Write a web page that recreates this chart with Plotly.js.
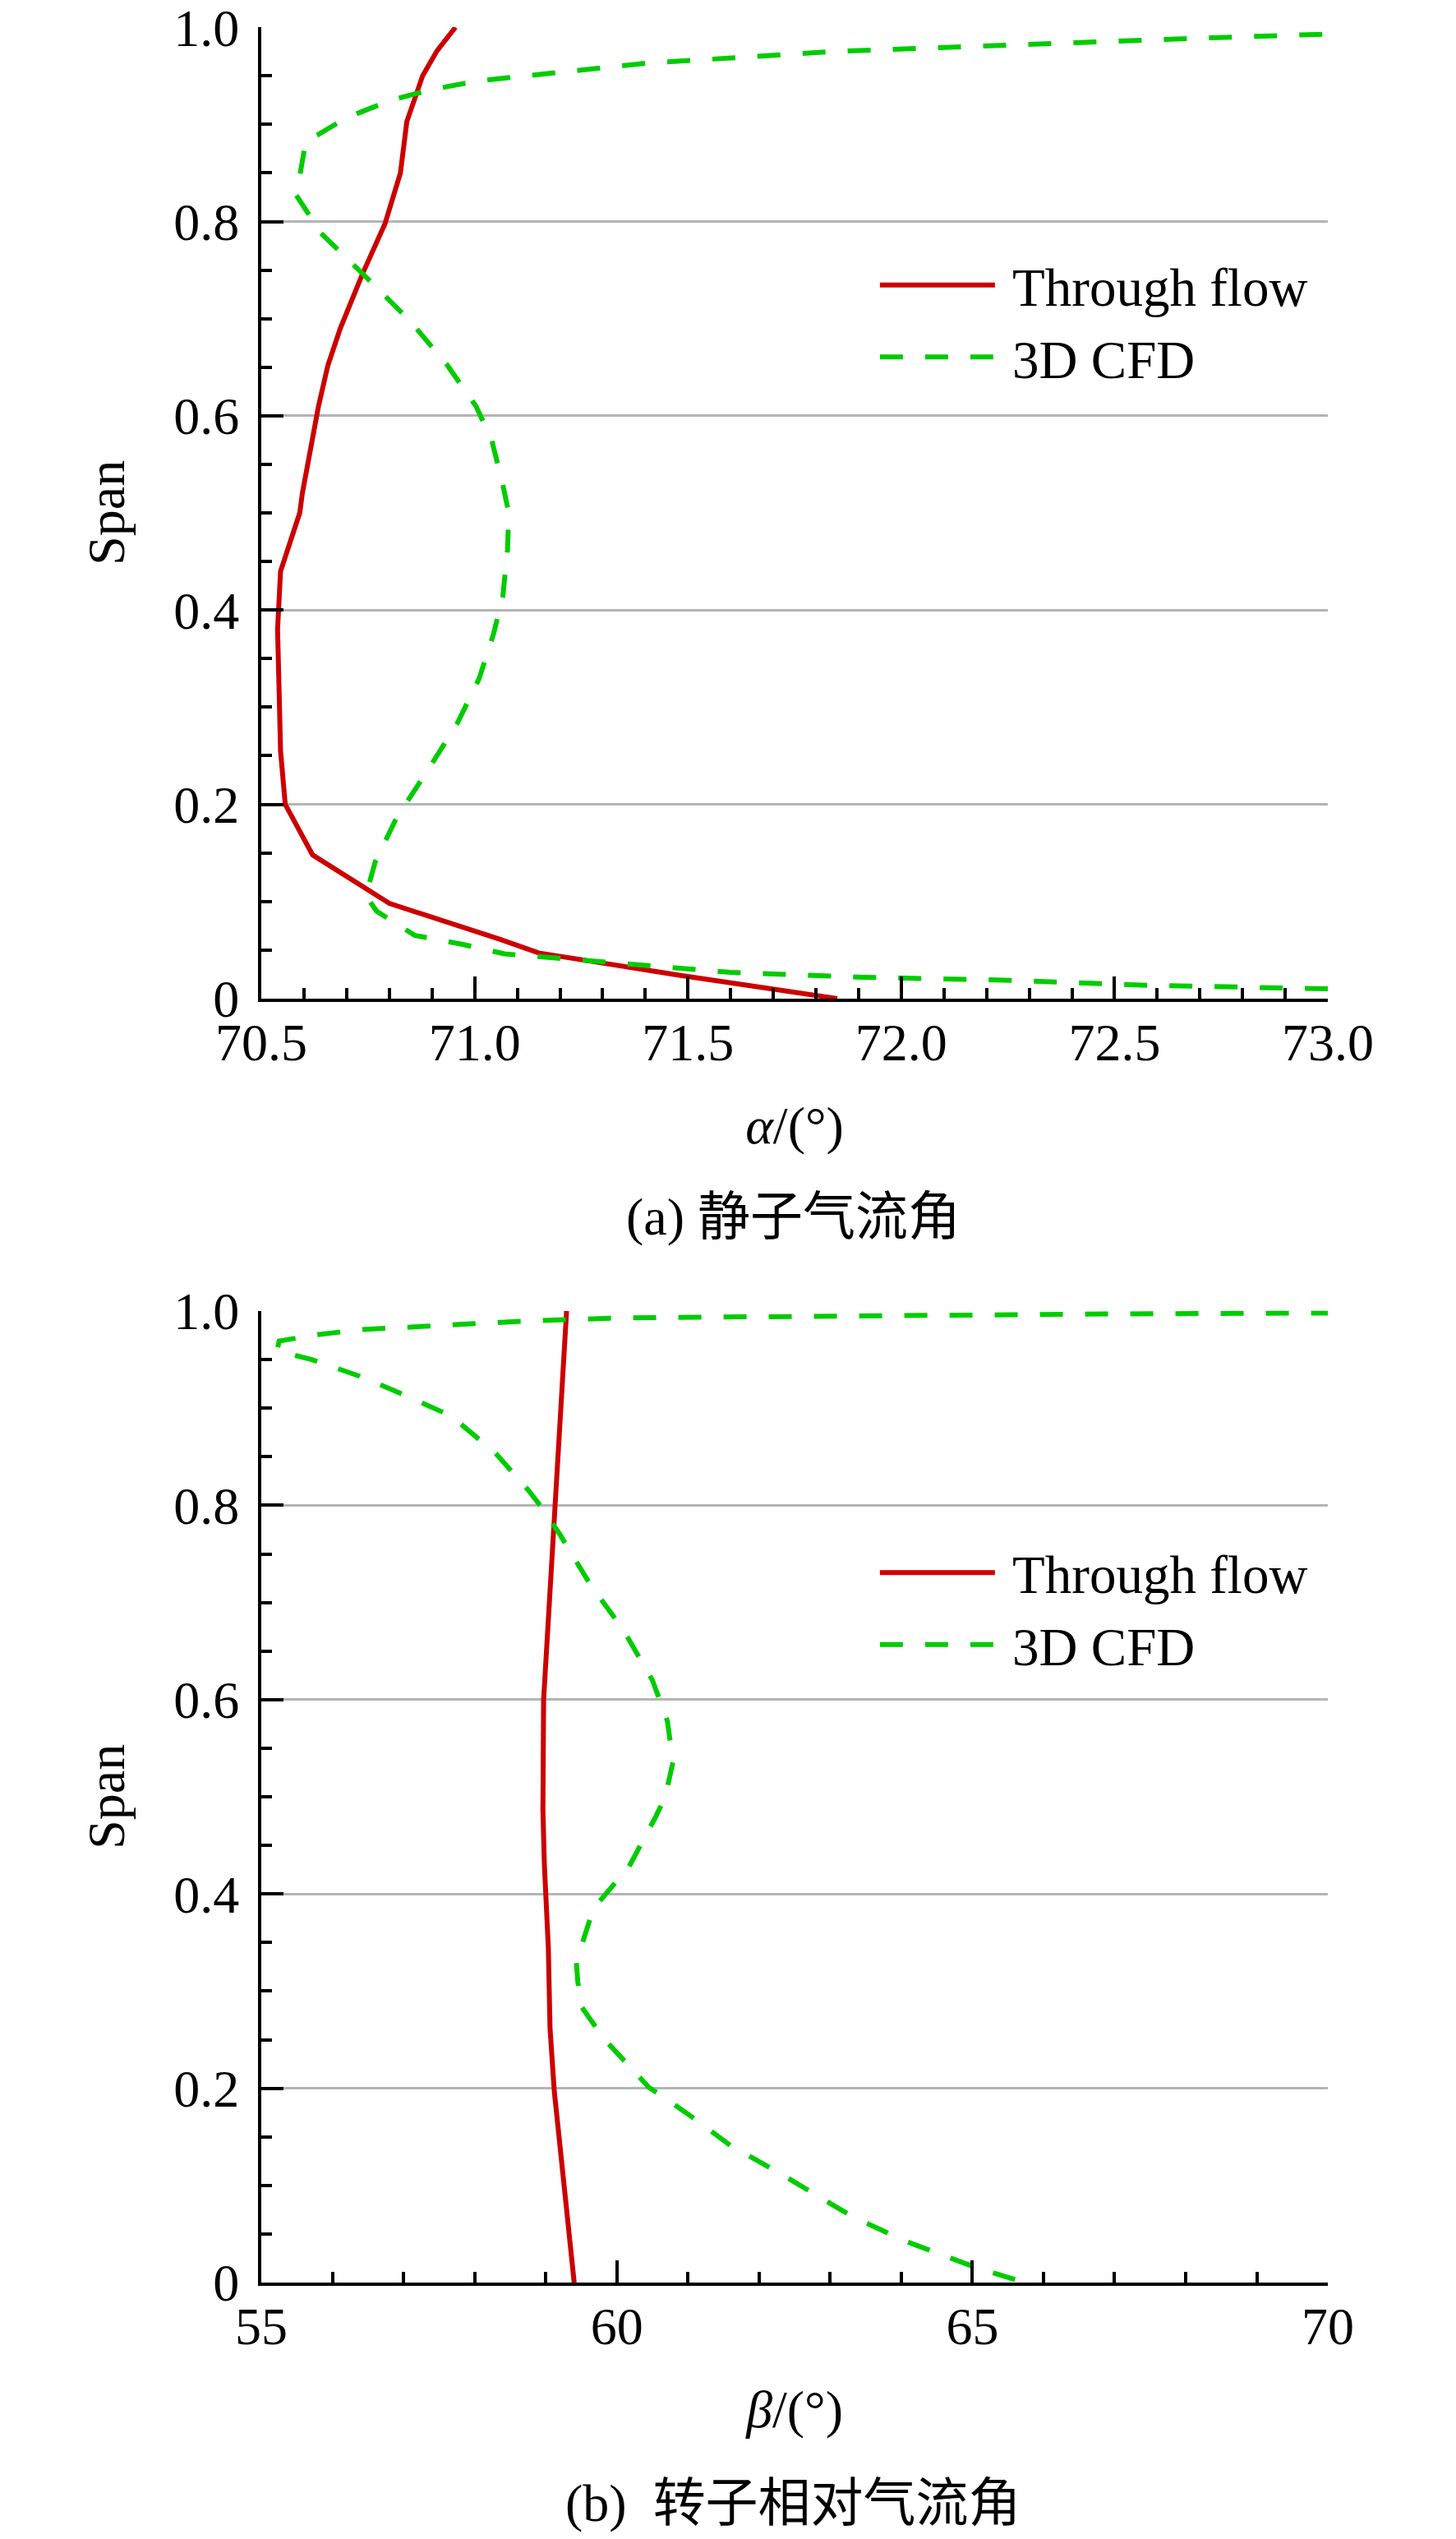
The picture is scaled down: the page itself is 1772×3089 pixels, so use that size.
<!DOCTYPE html>
<html>
<head>
<meta charset="utf-8">
<script src="https://cdn.plot.ly/plotly-3.0.1.min.js"></script>
<style>
  html, body { margin: 0; padding: 0; background: #fff; }
  #plot { width: 1772px; height: 3089px; }
</style>
</head>
<body>
<div id="plot"></div>
<script>
// (a) stator flow angle
let statorTfAlpha = [71.85, 71.48, 71.15, 71.06, 70.80, 70.745, 70.62, 70.556, 70.545, 70.542, 70.538, 70.545, 70.59, 70.596, 70.634, 70.656, 70.685, 70.737, 70.79, 70.826, 70.841, 70.878, 70.912, 70.955];
let statorTfSpan  = [0.0, 0.024, 0.047, 0.061, 0.098, 0.113, 0.148, 0.20, 0.255, 0.31, 0.38, 0.44, 0.50, 0.52, 0.61, 0.652, 0.69, 0.746, 0.798, 0.85, 0.903, 0.95, 0.976, 1.0];

let statorCfdAlpha = [73.0, 72.55, 72.24, 71.91, 71.60, 71.38, 71.19, 71.07, 70.97, 70.86, 70.77, 70.745, 70.767, 70.818, 70.89, 70.96, 71.01, 71.044, 71.066, 71.077, 71.08, 71.066, 71.04, 71.003, 70.936, 70.848, 70.745, 70.64, 70.582, 70.59, 70.604, 70.70, 70.804, 70.90, 71.01, 71.12, 71.40, 71.84, 72.19, 72.42, 72.71, 73.0];
let statorCfdSpan  = [0.010, 0.014, 0.019, 0.022, 0.027, 0.035, 0.042, 0.046, 0.056, 0.065, 0.090, 0.106, 0.141, 0.187, 0.235, 0.284, 0.329, 0.375, 0.414, 0.462, 0.50, 0.529, 0.575, 0.61, 0.652, 0.698, 0.743, 0.788, 0.827, 0.847, 0.882, 0.907, 0.925, 0.936, 0.945, 0.950, 0.963, 0.975, 0.981, 0.984, 0.989, 0.993];

// (b) rotor relative flow angle
let rotorTfBeta = [59.40, 59.32, 59.24, 59.12, 59.06, 59.036, 58.98, 58.96, 58.97, 59.036, 59.11, 59.165, 59.24, 59.293];
let rotorTfSpan = [0.0, 0.054, 0.111, 0.197, 0.262, 0.345, 0.431, 0.487, 0.60, 0.684, 0.778, 0.854, 0.952, 1.0];

let rotorCfdBeta = [65.6, 65.03, 64.08, 63.31, 62.35, 61.6, 60.97, 60.45, 59.83, 59.50, 59.45, 59.43, 59.67, 60.17, 60.55, 60.68, 60.79, 60.71, 60.50, 60.09, 59.63, 59.19, 58.93, 58.75, 58.29, 57.67, 57.0, 56.38, 55.71, 55.22, 55.25, 55.71, 56.43, 57.67, 58.80, 60.09, 61.54, 64.0, 67.0, 70.0];
let rotorCfdSpan = [0.003, 0.016, 0.042, 0.068, 0.110, 0.141, 0.175, 0.201, 0.250, 0.284, 0.31, 0.33, 0.385, 0.428, 0.48, 0.50, 0.536, 0.578, 0.62, 0.672, 0.718, 0.771, 0.799, 0.816, 0.854, 0.892, 0.914, 0.933, 0.950, 0.959, 0.969, 0.975, 0.981, 0.986, 0.990, 0.993, 0.994, 0.996, 0.997, 0.998];

let seriesNames = ["Through flow", "3D CFD"];
let spanTicks = [0, 0.2, 0.4, 0.6, 0.8, 1.0];
let spanTickText = ["0", "0.2", "0.4", "0.6", "0.8", "1.0"];
let alphaTicks = [70.5, 71.0, 71.5, 72.0, 72.5, 73.0];
let alphaTickText = ["70.5", "71.0", "71.5", "72.0", "72.5", "73.0"];
let betaTicks = [55, 60, 65, 70];
let betaTickText = ["55", "60", "65", "70"];
let captions = ["(a) 静子气流角", "(b)\u00a0\u00a0转子相对气流角"];

var serif = "Liberation Serif, Times New Roman, serif";
var cjk = "Liberation Serif, Noto Sans CJK SC, serif";
var red = "#cc0000";
var green = "#00cc00";

function curve(x, y, name, color, dash, xa, ya, leg) {
	return {
		x: x, y: y, name: "\u00a0" + name, type: "scatter", mode: "lines",
		xaxis: xa, yaxis: ya, legend: leg,
		line: {color: color, width: 6, dash: dash}
	};
}

function xAxis(domain, range, ticks, text, minor, title, anchor) {
	return {
		domain: domain, range: range, anchor: anchor,
		tickvals: ticks, ticktext: text,
		ticks: "inside", ticklen: 27, tickwidth: 4, tickcolor: "#000",
		minor: {ticks: "inside", ticklen: 13, tickwidth: 4, tickcolor: "#000", dtick: minor, showgrid: false},
		showline: true, linecolor: "#000", linewidth: 4, mirror: false,
		showgrid: false, zeroline: false, automargin: false,
		tickfont: {family: serif, size: 64, color: "#000"},
		ticklabelstandoff: -6, ticklabeloverflow: "allow",
		title: {text: title, font: {family: serif, size: 64, color: "#000"}, standoff: 44}
	};
}

function yAxis(domain, anchor) {
	return {
		domain: domain, range: [0, 1.0004], anchor: anchor,
		tickvals: spanTicks, ticktext: spanTickText,
		ticks: "inside", ticklen: 27, tickwidth: 4, tickcolor: "#000",
		minor: {ticks: "inside", ticklen: 13, tickwidth: 4, tickcolor: "#000", dtick: 0.05, showgrid: false},
		showline: true, linecolor: "#000", linewidth: 4, mirror: false,
		showgrid: true, gridcolor: "#b4b4b4", gridwidth: 3,
		zeroline: false, automargin: false,
		tickfont: {family: serif, size: 64, color: "#000"},
		ticklabelstandoff: 10, ticklabeloverflow: "allow",
		title: {text: "Span", font: {family: serif, size: 64, color: "#000"}, standoff: 40}
	};
}

function legendAt(y) {
	return {
		x: 0.6015, y: y, xanchor: "left", yanchor: "middle",
		bgcolor: "rgba(0,0,0,0)", borderwidth: 0,
		font: {family: serif, size: 65, color: "#000"},
		itemwidth: 140, tracegroupgap: 0
	};
}

var data = [
	curve(statorTfAlpha, statorTfSpan, seriesNames[0], red, "solid", "x", "y", "legend"),
	curve(statorCfdAlpha, statorCfdSpan, seriesNames[1], green, "28px,27px", "x", "y", "legend"),
	curve(rotorTfBeta, rotorTfSpan, seriesNames[0], red, "solid", "x2", "y2", "legend2"),
	curve(rotorCfdBeta, rotorCfdSpan, seriesNames[1], green, "28px,27px", "x2", "y2", "legend2")
];

var xDom = [0.1795, 0.9120];
var layout = {
	width: 1772, height: 3089,
	margin: {l: 0, r: 0, t: 0, b: 0},
	paper_bgcolor: "#fff", plot_bgcolor: "#fff",
	showlegend: true,
	xaxis: xAxis(xDom, [70.5, 73.0], alphaTicks, alphaTickText, 0.1, "<i>α</i>/(°)", "y"),
	yaxis: yAxis([0.6067, 0.9894], "x"),
	xaxis2: xAxis(xDom, [55, 70], betaTicks, betaTickText, 1, "<i>β</i>/(°)", "y2"),
	yaxis2: yAxis([0.1010, 0.4838], "x2"),
	legend: legendAt(0.8736),
	legend2: legendAt(0.3665),
	annotations: [
		{text: captions[0], xref: "paper", yref: "paper", x: 0.5446, y: 0.5208, xanchor: "center", yanchor: "middle", showarrow: false, font: {family: cjk, size: 64, color: "#000"}},
		{text: captions[1], xref: "paper", yref: "paper", x: 0.5446, y: 0.0142, xanchor: "center", yanchor: "middle", showarrow: false, font: {family: cjk, size: 64, color: "#000"}}
	]
};

Plotly.newPlot("plot", data, layout, {staticPlot: true, displayModeBar: false});
</script>
</body>
</html>
